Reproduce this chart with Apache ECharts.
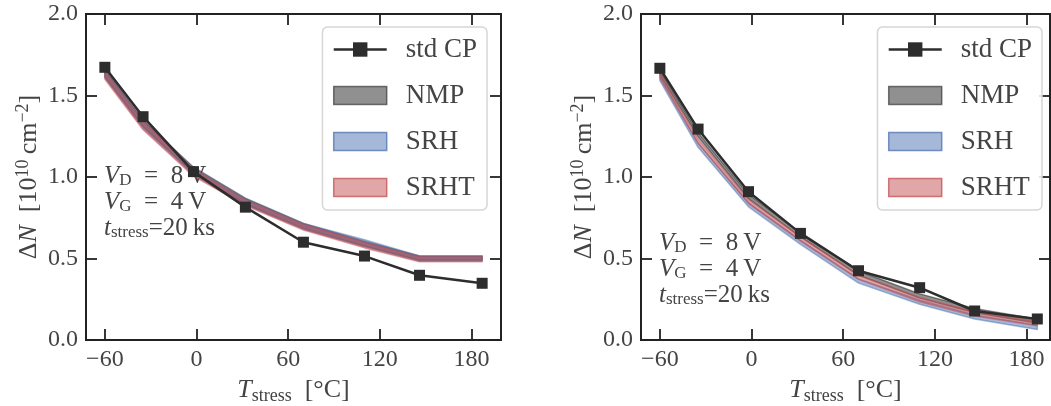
<!DOCTYPE html>
<html>
<head>
<meta charset="utf-8">
<script src="https://cdn.jsdelivr.net/npm/echarts@6/dist/echarts.min.js"></script>
<style>
html,body{margin:0;padding:0;background:#fff;}
#chart{width:1051px;height:406px;}
</style>
</head>
<body>
<div id="chart"></div>
<script>
// ---- data ----
const T = [-60, -35, -2, 32, 70, 110, 146, 187];
const xTicks = [-60, 0, 60, 120, 180];
const yTicks = [0, 0.5, 1.0, 1.5, 2.0];

// left panel
const L_std = [1.673, 1.370, 1.033, 0.815, 0.600, 0.515, 0.397, 0.348];
const L_NMP_lo = [1.615, 1.310, 1.020, 0.835, 0.685, 0.575, 0.490, 0.490];
const L_NMP_hi = [1.660, 1.350, 1.060, 0.870, 0.715, 0.605, 0.515, 0.515];
const L_SRH_lo = [1.610, 1.300, 1.015, 0.830, 0.680, 0.575, 0.485, 0.485];
const L_SRH_hi = [1.655, 1.345, 1.055, 0.865, 0.715, 0.615, 0.515, 0.515];
const L_SRHT_lo = [1.600, 1.290, 1.005, 0.825, 0.675, 0.565, 0.480, 0.480];
const L_SRHT_hi = [1.650, 1.340, 1.050, 0.860, 0.710, 0.600, 0.510, 0.510];

// right panel
const R_std = [1.667, 1.294, 0.910, 0.654, 0.425, 0.321, 0.178, 0.129];
const R_NMP_lo = [1.627, 1.247, 0.867, 0.632, 0.397, 0.257, 0.167, 0.102];
const R_NMP_hi = [1.653, 1.273, 0.893, 0.658, 0.423, 0.283, 0.193, 0.128];
const R_SRH_lo = [1.592, 1.182, 0.817, 0.587, 0.349, 0.219, 0.129, 0.065];
const R_SRH_hi = [1.618, 1.208, 0.843, 0.613, 0.375, 0.245, 0.155, 0.091];
const R_SRHT_lo = [1.607, 1.207, 0.837, 0.607, 0.372, 0.235, 0.147, 0.087];
const R_SRHT_hi = [1.633, 1.233, 0.863, 0.633, 0.398, 0.261, 0.173, 0.113];

const names = ['std CP', 'NMP', 'SRH', 'SRHT'];
// ---- styles ----
const FONT = '"Liberation Serif", "DejaVu Serif", serif';
const TXT = '#444';
const AX = '#222';
const colNMP = 'rgba(34,34,34,0.5)';
const colSRH = 'rgba(76,114,176,0.5)';
const colSRHT = 'rgba(196,78,82,0.5)';
const colStd = '#2d2d2d';

const xmin = -72.35, xmaxL = 199.35, xmaxR = 195.3;

function fmtX(v) { return v < 0 ? '\u2212' + Math.abs(v) : String(v); }

function xAxisPair(gi, xmax) {
  const base = {
    type: 'value', gridIndex: gi, min: xmin, max: xmax,
    splitLine: { show: false },
    axisLine: { show: true, onZero: false, lineStyle: { color: AX, width: 2 } },
    axisTick: { show: true, inside: true, length: 11, customValues: xTicks, lineStyle: { color: AX, width: 1.8 } },
  };
  return [
    Object.assign({}, base, {
      position: 'bottom',
      axisLabel: { show: true, customValues: xTicks, formatter: fmtX, color: TXT, fontFamily: FONT, fontSize: 24, margin: 8 },
      name: '{i|T}{sub|stress}{n|\u2002[°C]}',
      nameLocation: 'middle', nameGap: 32,
      nameTextStyle: {
        color: TXT, fontFamily: FONT,
        rich: {
          i: { fontStyle: 'italic', fontSize: 26, fontFamily: FONT, color: TXT, lineHeight: 30 },
          sub: { fontSize: 18, fontFamily: FONT, color: TXT, verticalAlign: 'bottom', lineHeight: 18 },
          n: { fontSize: 26, fontFamily: FONT, color: TXT, lineHeight: 30 }
        }
      }
    }),
    Object.assign({}, base, { position: 'top', axisLabel: { show: false } })
  ];
}

function yAxisPair(gi) {
  const base = {
    type: 'value', gridIndex: gi, min: 0, max: 2, interval: 0.5,
    splitLine: { show: false },
    axisLine: { show: true, onZero: false, lineStyle: { color: AX, width: 2 } },
    axisTick: { show: true, inside: true, length: 11, lineStyle: { color: AX, width: 1.8 } },
  };
  return [
    Object.assign({}, base, {
      position: 'left',
      axisLabel: { show: true, formatter: v => v.toFixed(1), color: TXT, fontFamily: FONT, fontSize: 24, margin: 8 },
      name: '{n|Δ}{i|N}{n|\u2002[10}{sup|10}{n|\u2009cm}{sup|−2}{n|]}',
      nameLocation: 'middle', nameGap: 42, nameRotate: 90,
      nameTextStyle: {
        color: TXT, fontFamily: FONT,
        rich: {
          i: { fontStyle: 'italic', fontSize: 26, fontFamily: FONT, color: TXT, lineHeight: 30 },
          sup: { fontSize: 18, fontFamily: FONT, color: TXT, verticalAlign: 'top', lineHeight: 18 },
          n: { fontSize: 26, fontFamily: FONT, color: TXT, lineHeight: 30 }
        }
      }
    }),
    Object.assign({}, base, { position: 'right', axisLabel: { show: false } })
  ];
}

function band(name, lo, hi, color, ai) {
  return {
    type: 'custom', name: name, xAxisIndex: ai, yAxisIndex: ai,
    itemStyle: { color: color },
    data: T.map((t, i) => [t, lo[i], hi[i]]),
    encode: { x: 0, y: [1, 2] },
    z: 2,
    renderItem: function (params, api) {
      if (params.dataIndex !== 0) return null;
      const pts = [];
      for (let i = 0; i < T.length; i++) pts.push(api.coord([T[i], hi[i]]));
      for (let i = T.length - 1; i >= 0; i--) pts.push(api.coord([T[i], lo[i]]));
      return {
        type: 'polygon', shape: { points: pts },
        style: { fill: color, stroke: color, lineWidth: 1.5, lineJoin: 'round' }
      };
    }
  };
}

function stdLine(vals, ai) {
  return {
    type: 'line', name: 'std CP', xAxisIndex: ai, yAxisIndex: ai,
    data: T.map((t, i) => [t, vals[i]]),
    symbol: 'rect', symbolSize: 11, showSymbol: true,
    lineStyle: { color: colStd, width: 2.5 },
    itemStyle: { color: colStd },
    z: 5, animation: false
  };
}

function legend(right) {
  return {
    orient: 'vertical', top: 27, right: right,
    itemWidth: 53, itemHeight: 18, itemGap: 19,
    padding: [9, 10, 9, 10],
    backgroundColor: 'rgba(255,255,255,0.85)',
    borderColor: '#d6d6d6', borderWidth: 1.5, borderRadius: 5,
    textStyle: { color: TXT, fontFamily: FONT, fontSize: 27, lineHeight: 18, padding: [0, 0, 0, 14] },
    data: [
      { name: 'std CP', lineStyle: { width: 2.5, color: colStd } },
      { name: 'NMP', icon: 'rect', itemStyle: { color: colNMP, borderColor: 'rgba(34,34,34,0.6)', borderWidth: 1.5 } },
      { name: 'SRH', icon: 'rect', itemStyle: { color: colSRH, borderColor: 'rgba(76,114,176,0.75)', borderWidth: 1.5 } },
      { name: 'SRHT', icon: 'rect', itemStyle: { color: colSRHT, borderColor: 'rgba(196,78,82,0.75)', borderWidth: 1.5 } }
    ]
  };
}

const annRich = {
  i: { fontStyle: 'italic', fontSize: 25, fontFamily: FONT, fill: TXT, lineHeight: 26 },
  sub: { fontSize: 17, fontFamily: FONT, fill: TXT, verticalAlign: 'bottom', lineHeight: 17 },
  n: { fontSize: 25, fontFamily: FONT, fill: TXT, lineHeight: 26 }
};
const annText = '{i|V}{sub|D}{n|\u2002=\u20028\u2009V}\n{i|V}{sub|G}{n|\u2002=\u20024\u2009V}\n{i|t}{sub|stress}{n|=20\u2009ks}';

const chart = echarts.init(document.getElementById('chart'), null, { renderer: 'canvas' });
const xa = xAxisPair(0, xmaxL).concat(xAxisPair(1, xmaxR));
const ya = yAxisPair(0).concat(yAxisPair(1));
chart.setOption({
  animation: false,
  backgroundColor: '#fff',
  grid: [
    { left: 86, right: 550, top: 14, bottom: 66, outerBoundsMode: 'none', containLabel: false, show: true, borderColor: AX, borderWidth: 2, backgroundColor: 'transparent' },
    { left: 641, right: 1, top: 14, bottom: 66, outerBoundsMode: 'none', containLabel: false, show: true, borderColor: AX, borderWidth: 2, backgroundColor: 'transparent' }
  ],
  xAxis: xa,
  yAxis: ya,
  legend: [legend(564), legend(9)],
  series: [
    band('NMP', L_NMP_lo, L_NMP_hi, colNMP, 0),
    band('SRH', L_SRH_lo, L_SRH_hi, colSRH, 0),
    band('SRHT', L_SRHT_lo, L_SRHT_hi, colSRHT, 0),
    stdLine(L_std, 0),
    band('NMP', R_NMP_lo, R_NMP_hi, colNMP, 2),
    band('SRH', R_SRH_lo, R_SRH_hi, colSRH, 2),
    band('SRHT', R_SRHT_lo, R_SRHT_hi, colSRHT, 2),
    stdLine(R_std, 2)
  ],
  graphic: [
    { type: 'text', left: 104, top: 164, style: { text: annText, rich: annRich, fill: TXT, font: '25px ' + FONT } },
    { type: 'text', left: 659, top: 231, style: { text: annText, rich: annRich, fill: TXT, font: '25px ' + FONT } }
  ]
});
</script>
</body>
</html>
